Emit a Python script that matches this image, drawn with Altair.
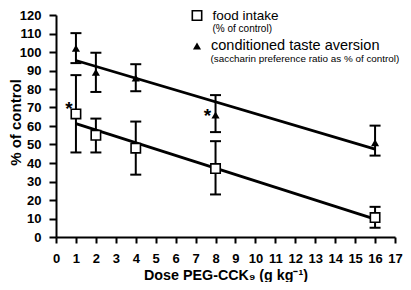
import altair as alt
import pandas as pd

# ---- data ----
doses = [1, 2, 4, 8, 16]
food_mean = [66.5, 55, 48, 37, 10.5]
food_lo = [45.7, 45.7, 33.7, 23, 5]
food_hi = [87.5, 64, 62.4, 51.8, 16.3]
cta_mean = [102, 89, 86, 66, 51]
cta_lo = [94, 78.4, 78.8, 56.7, 44]
cta_hi = [110.2, 99.6, 93.4, 76.7, 60.2]
series_names = ["food intake", "conditioned taste aversion"]
series_notes = ["(% of control)", "(saccharin preference ratio as % of control)"]
star_dose = [0.65, 7.6]
star_value = [69, 65.5]
x_ticks = list(range(0, 18))
y_ticks = list(range(0, 121, 10))

rows = []
for d, m, lo, hi in zip(doses, food_mean, food_lo, food_hi):
    rows.append({"dose": d, "value": m, "lo": lo, "hi": hi, "series": series_names[0]})
for d, m, lo, hi in zip(doses, cta_mean, cta_lo, cta_hi):
    rows.append({"dose": d, "value": m, "lo": lo, "hi": hi, "series": series_names[1]})
df = pd.DataFrame(rows)
stars = pd.DataFrame({"dose": star_dose, "value": star_value, "t": ["*", "*"]})

FONT = "Liberation Sans"
W, H = 339, 222

x_axis = alt.Axis(values=x_ticks, tickSize=6, tickWidth=2, domainWidth=2,
                  domainColor="black", tickColor="black", grid=False,
                  labelFont=FONT, labelFontSize=13, labelFontWeight="bold",
                  labelColor="black", labelPadding=9, labelFlush=False,
                  labelOverlap=False,
                  title="Dose PEG-CCK\u2089 (g kg\u207b\u00b9)", titleFont=FONT,
                  titleFontSize=14.3, titleFontWeight="bold", titleColor="black",
                  titlePadding=3)
y_axis = alt.Axis(values=y_ticks, tickSize=7, tickWidth=2, domainWidth=2,
                  domainColor="black", tickColor="black", grid=False,
                  labelFont=FONT, labelFontSize=13, labelFontWeight="bold",
                  labelColor="black", labelPadding=8, labelFlush=False,
                  labelOverlap=False,
                  title="% of control", titleFont=FONT,
                  titleFontSize=15, titleFontWeight="bold", titleColor="black",
                  titleX=-40.5, titleY=107, titleAngle=270,
                  titleAlign="center", titleBaseline="middle")

xs = alt.Scale(domain=[0, 17], nice=False, zero=True)
ys = alt.Scale(domain=[0, 120], nice=False)
X = alt.X("dose:Q", scale=xs, axis=x_axis)
Y = alt.Y("value:Q", scale=ys, axis=y_axis)

base = alt.Chart(df)

reg = base.transform_regression("dose", "value", groupby=["series"]).mark_line(
    color="black", strokeWidth=2.8).encode(x=X, y=Y, detail="series:N")

err = base.mark_rule(color="black", strokeWidth=2).encode(
    x=X, y=alt.Y("lo:Q", scale=ys, axis=y_axis), y2="hi:Q")
cap_lo = base.mark_tick(color="black", orient="horizontal", size=11, thickness=2,
                        opacity=1).encode(x=X, y=alt.Y("lo:Q", scale=ys, axis=y_axis))
cap_hi = base.mark_tick(color="black", orient="horizontal", size=11, thickness=2,
                        opacity=1).encode(x=X, y=alt.Y("hi:Q", scale=ys, axis=y_axis))

sq = base.transform_filter(alt.datum.series == series_names[0]).mark_point(
    shape="square", size=88, fill="white", stroke="black", strokeWidth=1.6,
    opacity=1, filled=False).encode(x=X, y=Y)
tri = base.transform_filter(alt.datum.series == series_names[1]).mark_point(
    shape="triangle-up", size=66, filled=True, color="black", opacity=1).encode(x=X, y=Y)

star = alt.Chart(stars).mark_text(font=FONT, fontSize=19, fontWeight="bold",
                                  color="black", baseline="middle").encode(
    x=X, y=Y, text="t:N")

one = pd.DataFrame({"k": [0]})
leg_sq = alt.Chart(one).mark_point(shape="square", size=88, fill="white", stroke="black",
                                   strokeWidth=1.6, opacity=1, filled=False).encode(
    x=alt.value(141), y=alt.value(0.5))
leg_tri = alt.Chart(one).mark_point(shape="triangle-up", size=66, filled=True,
                                    color="black", opacity=1).encode(
    x=alt.value(141), y=alt.value(31))


def txt(s, x, y, size):
    return alt.Chart(one).mark_text(font=FONT, fontSize=size, color="black",
                                    align="left", baseline="middle").encode(
        x=alt.value(x), y=alt.value(y), text=alt.value(s))


legend = (leg_sq + leg_tri
          + txt(series_names[0], 156.5, 0.5, 13.5)
          + txt(series_notes[0], 156.5, 14, 10)
          + txt(series_names[1], 155, 31, 14.5)
          + txt(series_notes[1], 154.5, 43.5, 9.9))

chart = alt.layer(reg, err, cap_lo, cap_hi, sq, tri, star, legend).properties(
    width=W, height=H,
    padding={"left": 48, "top": 7, "right": 8, "bottom": 45},
    autosize="none",
    background="white",
).configure_view(stroke=None)

chart.save("out.html", embed_options={"renderer": "svg", "actions": False})
